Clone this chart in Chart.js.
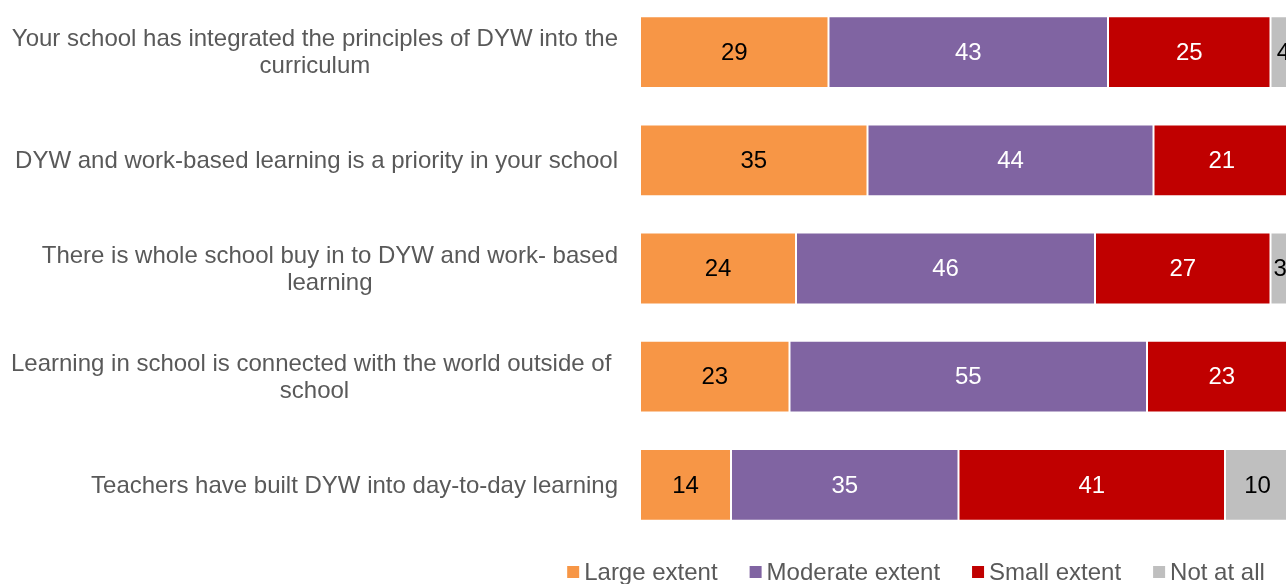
<!DOCTYPE html>
<html>
<head>
<meta charset="utf-8">
<script src="https://cdn.jsdelivr.net/npm/chart.js@4/dist/chart.umd.min.js"></script>
<style>
  html, body { margin:0; padding:0; background:#fff; overflow:hidden; width:1286px; height:584px; }
  #c { position:absolute; left:0; top:-2px; }
</style>
</head>
<body>
<canvas id="c" width="1290" height="586"></canvas>
<script>
const categories = [
  ['Your school has integrated the principles of DYW into the', 'curriculum'],
  ['DYW and work-based learning is a priority in your school'],
  ['There is whole school buy in to DYW and work- based', 'learning'],
  ['Learning in school is connected with the world outside of ', 'school'],
  ['Teachers have built DYW into day-to-day learning']
];
const seriesNames = ['Large extent', 'Moderate extent', 'Small extent', 'Not at all'];
const largeExtent    = [29, 35, 24, 23, 14];
const moderateExtent = [43, 44, 46, 55, 35];
const smallExtent    = [25, 21, 27, 23, 41];
const notAtAll       = [4, 0, 3, 0, 10];

const colors = ['#F79646', '#8064A2', '#C00000', '#BFBFBF'];
const labelColors = ['#000000', '#FFFFFF', '#FFFFFF', '#000000'];
const FONT = '"Liberation Sans", Arial, sans-serif';

const valueLabels = {
  id: 'valueLabels',
  afterDatasetsDraw(chart) {
    const ctx = chart.ctx;
    ctx.save();
    ctx.font = '24px ' + FONT;
    ctx.textAlign = 'center';
    ctx.textBaseline = 'middle';
    chart.data.datasets.forEach((ds, di) => {
      const meta = chart.getDatasetMeta(di);
      meta.data.forEach((el, i) => {
        const v = ds.data[i];
        if (!v) return;
        const p = el.getCenterPoint();
        ctx.fillStyle = labelColors[di];
        ctx.fillText(String(v), p.x, p.y + 1);
      });
    });
    ctx.restore();
  }
};

const categoryLabels = {
  id: 'categoryLabels',
  afterDraw(chart) {
    const ctx = chart.ctx;
    const yScale = chart.scales.y;
    ctx.save();
    ctx.font = '24px ' + FONT;
    ctx.fillStyle = '#595959';
    ctx.textAlign = 'center';
    ctx.textBaseline = 'middle';
    const right = 618, lineH = 27;
    categories.forEach((lines, i) => {
      const yc = yScale.getPixelForValue(i) + 1;
      const w = Math.max(...lines.map(l => ctx.measureText(l).width));
      const cx = right - w / 2;
      const y0 = yc - (lines.length - 1) * lineH / 2;
      lines.forEach((l, k) => ctx.fillText(l, cx, y0 + k * lineH));
    });
    ctx.restore();
  }
};

const customLegend = {
  id: 'customLegend',
  afterDraw(chart) {
    const ctx = chart.ctx;
    ctx.save();
    ctx.font = '24px ' + FONT;
    ctx.textBaseline = 'alphabetic';
    ctx.textAlign = 'left';
    const box = 12, gap = 5, spacing = 32;
    const widths = seriesNames.map(n => ctx.measureText(n).width);
    const total = widths.reduce((a, w) => a + box + gap + w, 0) + spacing * (seriesNames.length - 1);
    let x = 916 - total / 2;
    const baseY = 582;
    seriesNames.forEach((n, i) => {
      ctx.fillStyle = colors[i];
      ctx.fillRect(x, baseY - 14, box, box);
      ctx.fillStyle = '#595959';
      ctx.fillText(n, x + box + gap, baseY);
      x += box + gap + widths[i] + spacing;
    });
    ctx.restore();
  }
};

const seriesData = [largeExtent, moderateExtent, smallExtent, notAtAll];

new Chart(document.getElementById('c'), {
  type: 'bar',
  data: {
    labels: categories.map(l => l.join(' ')),
    datasets: seriesNames.map((name, i) => ({
      label: name,
      data: seriesData[i],
      backgroundColor: colors[i],
      borderColor: 'rgba(255,255,255,0.7)',
      borderWidth: 1,
      borderSkipped: false,
      barPercentage: 0.664,
      categoryPercentage: 1.0
    }))
  },
  options: {
    indexAxis: 'y',
    responsive: false,
    animation: false,
    devicePixelRatio: 1,
    layout: { padding: { left: 640, right: 0, top: 0, bottom: 45 } },
    scales: {
      x: { stacked: true, min: 0, max: 100, display: false },
      y: { stacked: true, display: false }
    },
    plugins: {
      legend: { display: false },
      tooltip: { enabled: false }
    }
  },
  plugins: [valueLabels, categoryLabels, customLegend]
});
</script>
</body>
</html>
